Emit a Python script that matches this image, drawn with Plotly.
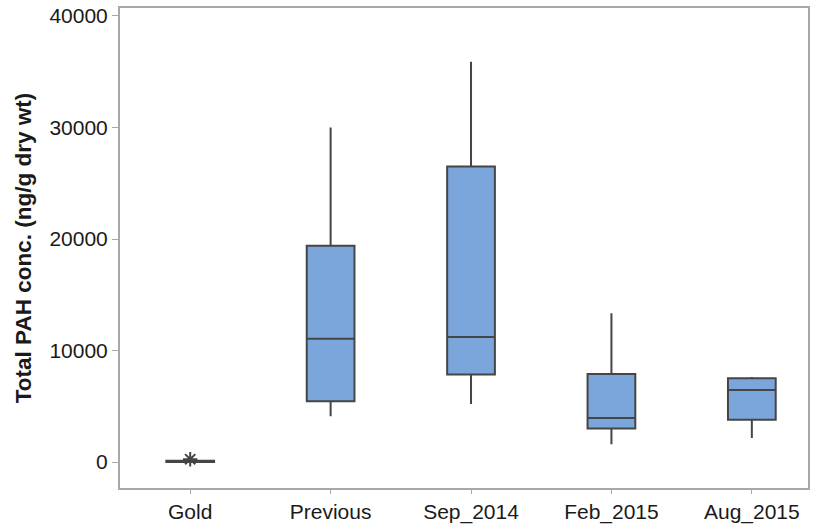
import plotly.graph_objects as go

categories = ["Gold", "Previous", "Sep_2014", "Feb_2015", "Aug_2015"]
lower_whisker = [0, 4100, 5200, 1600, 2150]
q1_values = [10, 5450, 7850, 3000, 3780]
median_values = [40, 11050, 11200, 3950, 6450]
q3_values = [120, 19400, 26500, 7900, 7520]
upper_whisker = [200, 30000, 35900, 13350, 7620]
outlier_categories = ["Gold"]
outlier_values = [250]
y_tick_values = [0, 10000, 20000, 30000, 40000]
y_tick_labels = ["0", "10000", "20000", "30000", "40000"]

dark = "#454545"
fig = go.Figure()
fig.add_trace(go.Box(
    x=categories,
    q1=q1_values,
    median=median_values,
    q3=q3_values,
    lowerfence=lower_whisker,
    upperfence=upper_whisker,
    width=0.34,
    whiskerwidth=0,
    fillcolor="#7ba6db",
    line=dict(color=dark, width=2),
    boxpoints=False,
    showlegend=False,
    hoverinfo="skip",
))
fig.add_trace(go.Scatter(
    x=outlier_categories,
    y=outlier_values,
    mode="markers",
    marker=dict(symbol="asterisk-open", size=12, color=dark, line=dict(color=dark, width=2)),
    showlegend=False,
    hoverinfo="skip",
))

axis_line = "#a8a8a8"
fig.update_layout(
    width=814, height=527,
    margin=dict(l=120, r=6, t=8, b=39),
    paper_bgcolor="white", plot_bgcolor="white",
    font=dict(family="Liberation Sans, Arial, sans-serif", color="#1a1a1a", size=21),
)
fig.update_xaxes(
    type="category", categoryorder="array", categoryarray=categories,
    range=[-0.5, 4.4], automargin=False,
    showline=True, linecolor=axis_line, linewidth=2, mirror=True,
    ticks="outside", ticklen=4, tickcolor=axis_line, tickwidth=1,
    showgrid=False, zeroline=False,
    tickfont=dict(size=21),
)
fig.update_yaxes(
    range=[-2332, 40717], automargin=False,
    tickvals=y_tick_values, ticktext=y_tick_labels,
    showline=True, linecolor=axis_line, linewidth=2, mirror=True,
    ticks="outside", ticklen=6, tickcolor=axis_line, tickwidth=1,
    showgrid=False, zeroline=False,
    tickfont=dict(size=21),
    title=dict(text="<b>Total PAH conc. (ng/g dry wt)</b>", font=dict(size=22.5), standoff=12),
)

fig.write_html("out.html", config={"displayModeBar": False},
               post_script="document.body.style.margin='0';")
